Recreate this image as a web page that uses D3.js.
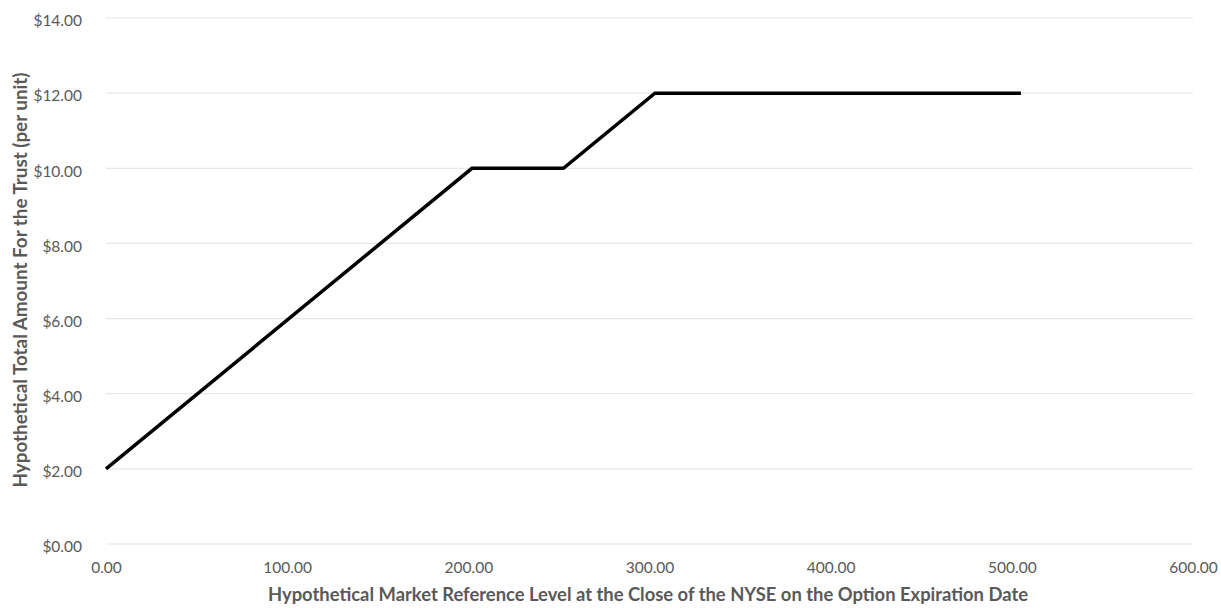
<!DOCTYPE html>
<meta charset="utf-8" />
<style>
  body { margin: 0; background: #fff; }
  svg text { font-family: Lato, "Open Sans", sans-serif; fill: #595959; }
  .tick text { font-size: 15.5px; }
  .axis-title { font-size: 18.3px; font-weight: bold; }
</style>
<script src="https://d3js.org/d3.v7.min.js"></script>
<svg id="chart" width="1221" height="608"></svg>
<script>
  // reference level vs total amount per unit
  const refLevel = [0, 202, 252.5, 303, 505];
  const amount = [2, 10, 10, 12, 12];
  const xTicks = [0, 100, 200, 300, 400, 500, 600];
  const yTicks = [0, 2, 4, 6, 8, 10, 12, 14];

  const svg = d3.select('#chart');
  const margin = { left: 106, right: 28, top: 18, bottom: 64 };
  const width = +svg.attr('width'), height = +svg.attr('height');

  const x = d3.scaleLinear().domain([0, 600]).range([margin.left, width - margin.right]);
  const y = d3.scaleLinear().domain([0, 14]).range([height - margin.bottom, margin.top]);

  // gridlines
  svg.append('g')
    .selectAll('line')
    .data(yTicks)
    .enter()
    .append('line')
    .attr('x1', x(0))
    .attr('x2', x(600))
    .attr('y1', d => y(d))
    .attr('y2', d => y(d))
    .attr('stroke', '#e6e6e6')
    .attr('stroke-width', 1.2);

  // y axis labels
  const yAxis = svg.append('g')
    .attr('transform', 'translate(' + (margin.left - 21) + ',0)')
    .call(d3.axisLeft(y).tickValues(yTicks).tickSize(0).tickFormat(d => '$' + d3.format('.2f')(d)));
  yAxis.select('.domain').remove();
  yAxis.selectAll('text').attr('dy', '0.5em');

  // x axis labels
  const xAxis = svg.append('g')
    .attr('transform', 'translate(0,' + (y(0) + 15) + ')')
    .call(d3.axisBottom(x).tickValues(xTicks).tickSize(0).tickFormat(d3.format('.2f')));
  xAxis.select('.domain').remove();

  // the line
  const pts = refLevel.map((v, i) => [v, amount[i]]);
  svg.append('path')
    .datum(pts)
    .attr('fill', 'none')
    .attr('stroke', '#000')
    .attr('stroke-width', 3.5)
    .attr('stroke-linejoin', 'miter')
    .attr('d', d3.line().x(d => x(d[0])).y(d => y(d[1])));

  // axis titles
  svg.append('text')
    .attr('class', 'axis-title')
    .attr('x', 648)
    .attr('y', 601)
    .attr('text-anchor', 'middle')
    .attr('textLength', 760)
    .attr('lengthAdjust', 'spacingAndGlyphs')
    .text('Hypothetical Market Reference Level at the Close of the NYSE on the Option Expiration Date');

  svg.append('text')
    .attr('class', 'axis-title')
    .attr('transform', 'translate(27,280) rotate(-90)')
    .attr('text-anchor', 'middle')
    .attr('textLength', 415)
    .attr('lengthAdjust', 'spacingAndGlyphs')
    .text('Hypothetical Total Amount For the Trust (per unit)');
</script>
